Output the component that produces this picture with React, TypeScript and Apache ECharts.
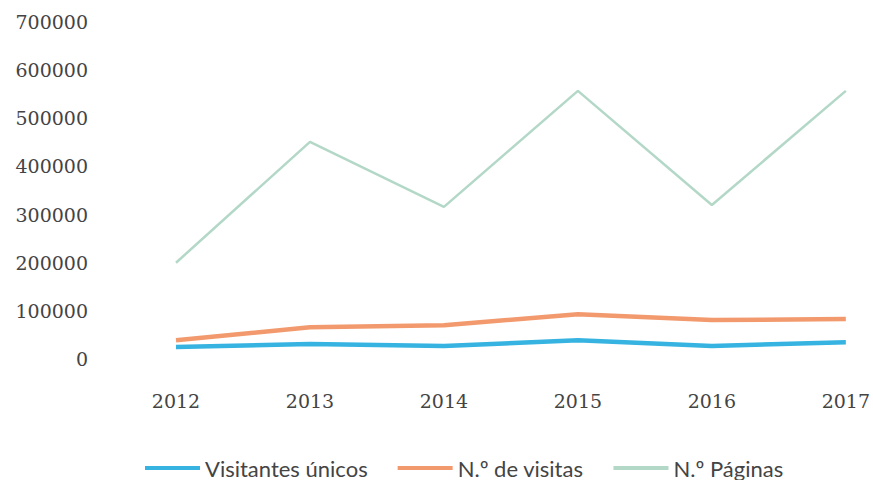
import React, { useEffect, useRef } from "react";
import * as echarts from "echarts";

const years = ["2012", "2013", "2014", "2015", "2016", "2017"];
const visitantesUnicos = [25000, 31000, 27000, 39000, 27000, 35000];
const numVisitas = [39000, 66000, 70000, 93000, 81000, 83000];
const numPaginas = [200000, 451000, 316000, 557000, 320000, 557000];
const yTicks = [0, 100000, 200000, 300000, 400000, 500000, 600000, 700000];

export default function App() {
  const ref = useRef<HTMLDivElement>(null);
  useEffect(() => {
    if (!ref.current) return;
    const chart = echarts.init(ref.current, undefined, { renderer: "svg" });
    const labelFont = { fontFamily: "DejaVu Serif", fontSize: 19, color: "#444" };
    chart.setOption({
      animation: false,
      backgroundColor: "#ffffff",
      grid: { left: 176, right: 27, top: 22, bottom: 121, containLabel: false },
      xAxis: {
        type: "category",
        data: years,
        boundaryGap: false,
        axisLine: { show: false },
        axisTick: { show: false },
        axisLabel: { ...labelFont, margin: 32 },
        splitLine: { show: false },
      },
      yAxis: {
        type: "value",
        min: yTicks[0],
        max: yTicks[yTicks.length - 1],
        interval: 100000,
        axisLine: { show: false },
        axisTick: { show: false },
        splitLine: { show: false },
        axisLabel: { ...labelFont, margin: 88, formatter: (v: number) => String(v) },
      },
      legend: {
        left: 140,
        top: 452,
        icon: "rect",
        itemWidth: 55,
        itemHeight: 4,
        itemGap: 30,
        textStyle: { fontFamily: "Lato", fontSize: 22, color: "#444" },
        data: ["Visitantes únicos", "N.º de visitas", "N.º Páginas"],
      },
      series: [
        {
          name: "Visitantes únicos",
          type: "line",
          data: visitantesUnicos,
          showSymbol: false,
          lineStyle: { width: 4.5, color: "#36b3e0" },
          itemStyle: { color: "#36b3e0" },
        },
        {
          name: "N.º de visitas",
          type: "line",
          data: numVisitas,
          showSymbol: false,
          lineStyle: { width: 4.5, color: "#f29a6e" },
          itemStyle: { color: "#f29a6e" },
        },
        {
          name: "N.º Páginas",
          type: "line",
          data: numPaginas,
          showSymbol: false,
          lineStyle: { width: 2.5, color: "#b3d8c7" },
          itemStyle: { color: "#b3d8c7" },
        },
      ],
    });
    return () => chart.dispose();
  }, []);
  return <div ref={ref} style={{ width: 873, height: 480, position: "absolute", left: 0, top: 0 }} />;
}
